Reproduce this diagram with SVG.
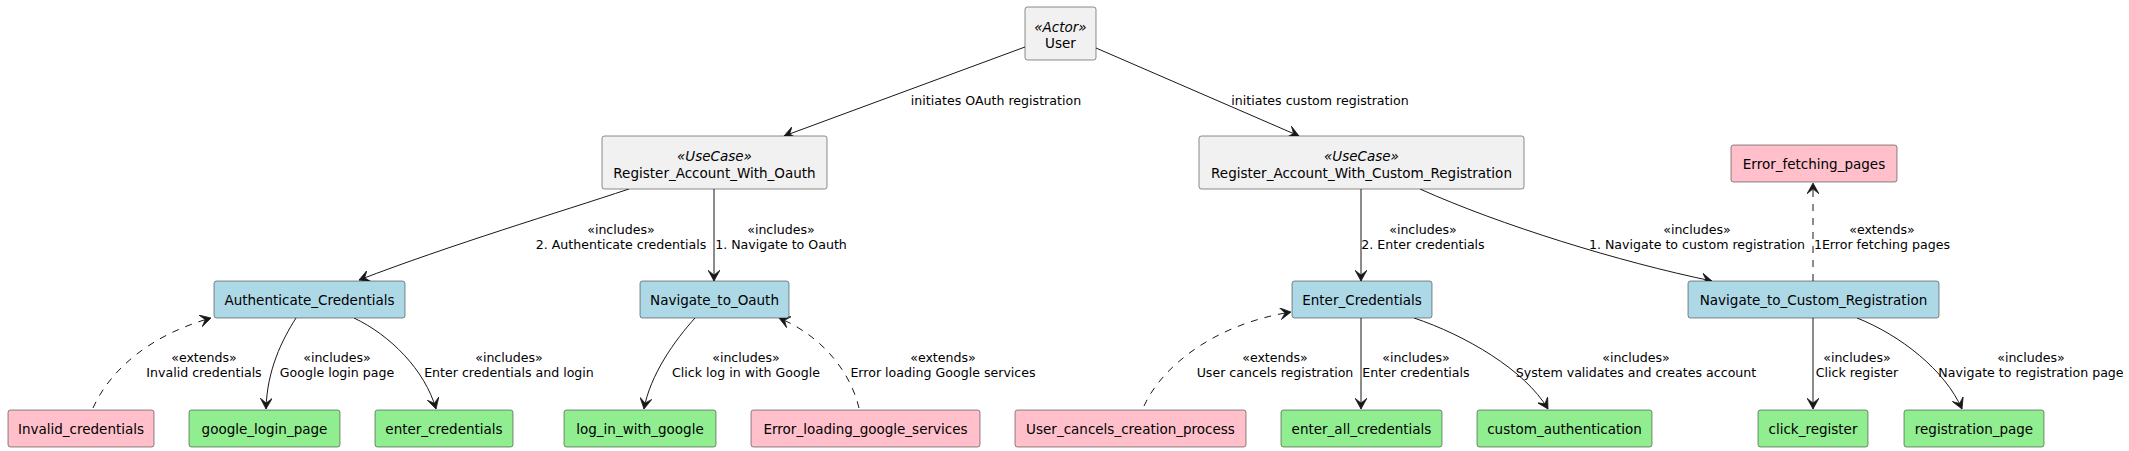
<svg xmlns="http://www.w3.org/2000/svg" width="2129" height="451" viewBox="0 0 2129 451">
<style>
.n rect{stroke:#181818;stroke-width:0.5}
.g rect{fill:#F1F1F1}
.b rect{fill:#ADD8E6}
.p rect{fill:#FFC0CB}
.e rect{fill:#90EE90}
.n text{font-family:"DejaVu Sans",sans-serif;font-size:13.5px;fill:#000;text-anchor:middle}
.n text.st{font-style:italic}
.c path{fill:none;stroke:#181818;stroke-width:1}
.c path.d{stroke-dasharray:7,7}
.c text{font-family:"DejaVu Sans",sans-serif;font-size:12.6px;fill:#000;text-anchor:middle}
</style>
<defs>
<marker id="ah" markerUnits="userSpaceOnUse" markerWidth="12" markerHeight="12" viewBox="0 0 10 10" refX="9" refY="5" orient="auto">
<path d="M0,0 L9,5 L0,10 L4,5 Z" fill="#181818" stroke="#181818" stroke-width="0.6"/>
</marker>
</defs>
<rect width="2129" height="451" fill="#FFFFFF"/>

<g id="connectors" class="c">
<path d="M1025,47 L784,136" marker-end="url(#ah)"/>
<text x="996" y="104.5">initiates OAuth registration</text>
<path d="M1096,48 L1299,136" marker-end="url(#ah)"/>
<text x="1320" y="104.5">initiates custom registration</text>

<path d="M629,189 C560,212 450,245 359,280" marker-end="url(#ah)"/>
<text x="621" y="234">«includes»</text>
<text x="621" y="249">2. Authenticate credentials</text>
<path d="M714,189 L714,281" marker-end="url(#ah)"/>
<text x="781" y="234">«includes»</text>
<text x="781" y="249">1. Navigate to Oauth</text>

<path d="M1361,189 L1361,281" marker-end="url(#ah)"/>
<text x="1423" y="234">«includes»</text>
<text x="1423" y="249">2. Enter credentials</text>
<path d="M1420,189 C1500,225 1620,262 1712,281" marker-end="url(#ah)"/>
<text x="1697" y="234">«includes»</text>
<text x="1697" y="249">1. Navigate to custom registration</text>
<path class="d" d="M1813,281 L1813,183" marker-end="url(#ah)"/>
<text x="1882" y="234">«extends»</text>
<text x="1882" y="249">1Error fetching pages</text>

<path class="d" d="M93,408 C110,370 150,335 211,318" marker-end="url(#ah)"/>
<text x="204" y="362">«extends»</text>
<text x="204" y="377">Invalid credentials</text>
<path d="M296,318 C282,340 267,370 266,409" marker-end="url(#ah)"/>
<text x="337" y="362">«includes»</text>
<text x="337" y="377">Google login page</text>
<path d="M354,318 C390,335 425,370 436,409" marker-end="url(#ah)"/>
<text x="509" y="362">«includes»</text>
<text x="509" y="377">Enter credentials and login</text>

<path d="M695,318 C675,340 650,375 644,409" marker-end="url(#ah)"/>
<text x="746" y="362">«includes»</text>
<text x="746" y="377">Click log in with Google</text>
<path class="d" d="M859,408 C850,370 820,335 779,318" marker-end="url(#ah)"/>
<text x="943" y="362">«extends»</text>
<text x="943" y="377">Error loading Google services</text>

<path class="d" d="M1144,406 C1160,370 1210,325 1291,312" marker-end="url(#ah)"/>
<text x="1275" y="362">«extends»</text>
<text x="1275" y="377">User cancels registration</text>
<path d="M1361,318 L1361,409" marker-end="url(#ah)"/>
<text x="1416" y="362">«includes»</text>
<text x="1416" y="377">Enter credentials</text>
<path d="M1414,318 C1465,335 1525,370 1548,409" marker-end="url(#ah)"/>
<text x="1636" y="362">«includes»</text>
<text x="1636" y="377">System validates and creates account</text>

<path d="M1813,318 L1813,409" marker-end="url(#ah)"/>
<text x="1857" y="362">«includes»</text>
<text x="1857" y="377">Click register</text>
<path d="M1857,318 C1900,335 1945,370 1962,409" marker-end="url(#ah)"/>
<text x="2031" y="362">«includes»</text>
<text x="2031" y="377">Navigate to registration page</text>
</g>

<g id="User" class="n g"><rect x="1025" y="7" width="71" height="53" rx="2.5"/><text class="st" x="1060.5" y="31.5">«Actor»</text><text x="1060.5" y="47.5">User</text></g>
<g id="Register_Account_With_Oauth" class="n g"><rect x="602" y="136" width="225" height="53" rx="2.5"/><text class="st" x="714.5" y="161">«UseCase»</text><text x="714.5" y="177.5">Register_Account_With_Oauth</text></g>
<g id="Register_Account_With_Custom_Registration" class="n g"><rect x="1199" y="136" width="325" height="53" rx="2.5"/><text class="st" x="1361.5" y="161">«UseCase»</text><text x="1361.5" y="177.5">Register_Account_With_Custom_Registration</text></g>

<g id="Error_fetching_pages" class="n p"><rect x="1731" y="145" width="166" height="37" rx="2.5"/><text x="1814" y="168.5">Error_fetching_pages</text></g>

<g id="Authenticate_Credentials" class="n b"><rect x="214" y="281" width="191" height="37" rx="2.5"/><text x="309.5" y="304.5">Authenticate_Credentials</text></g>
<g id="Navigate_to_Oauth" class="n b"><rect x="640" y="281" width="149" height="37" rx="2.5"/><text x="714.5" y="304.5">Navigate_to_Oauth</text></g>
<g id="Enter_Credentials" class="n b"><rect x="1292" y="281" width="140" height="37" rx="2.5"/><text x="1362" y="304.5">Enter_Credentials</text></g>
<g id="Navigate_to_Custom_Registration" class="n b"><rect x="1688" y="281" width="251" height="37" rx="2.5"/><text x="1813.5" y="304.5">Navigate_to_Custom_Registration</text></g>

<g id="Invalid_credentials" class="n p"><rect x="8" y="410" width="146" height="37" rx="2.5"/><text x="81" y="433.5">Invalid_credentials</text></g>
<g id="google_login_page" class="n e"><rect x="189" y="410" width="151" height="37" rx="2.5"/><text x="264.5" y="433.5">google_login_page</text></g>
<g id="enter_credentials" class="n e"><rect x="375" y="410" width="138" height="37" rx="2.5"/><text x="444" y="433.5">enter_credentials</text></g>
<g id="log_in_with_google" class="n e"><rect x="564" y="410" width="152" height="37" rx="2.5"/><text x="640" y="433.5">log_in_with_google</text></g>
<g id="Error_loading_google_services" class="n p"><rect x="751" y="410" width="229" height="37" rx="2.5"/><text x="865.5" y="433.5">Error_loading_google_services</text></g>
<g id="User_cancels_creation_process" class="n p"><rect x="1015" y="410" width="231" height="37" rx="2.5"/><text x="1130.5" y="433.5">User_cancels_creation_process</text></g>
<g id="enter_all_credentials" class="n e"><rect x="1281" y="410" width="161" height="37" rx="2.5"/><text x="1361.5" y="433.5">enter_all_credentials</text></g>
<g id="custom_authentication" class="n e"><rect x="1477" y="410" width="175" height="37" rx="2.5"/><text x="1564.5" y="433.5">custom_authentication</text></g>
<g id="click_register" class="n e"><rect x="1758" y="410" width="110" height="37" rx="2.5"/><text x="1813" y="433.5">click_register</text></g>
<g id="registration_page" class="n e"><rect x="1904" y="410" width="140" height="37" rx="2.5"/><text x="1974" y="433.5">registration_page</text></g>
</svg>
